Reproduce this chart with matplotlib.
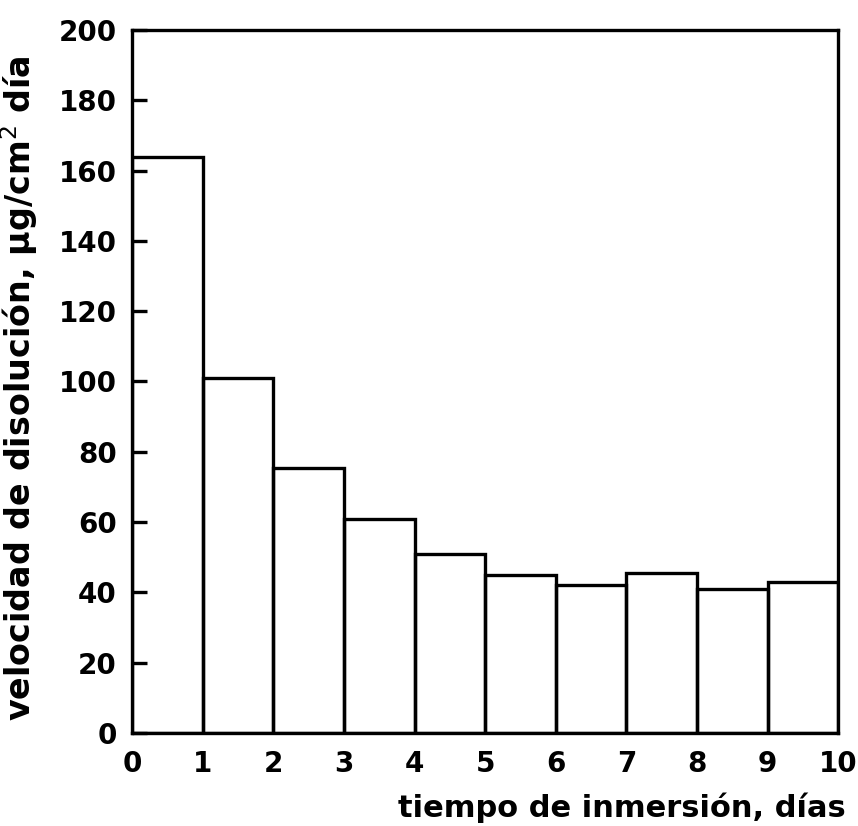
from matplotlib import pyplot as plt
import numpy as np

# dissolution rate per day of immersion
dias = np.arange(0, 10)
velocidad = [164, 101, 75.5, 61, 51, 45, 42, 45.5, 41, 43]
yticks = [0, 20, 40, 60, 80, 100, 120, 140, 160, 180, 200]
xticks = [0, 1, 2, 3, 4, 5, 6, 7, 8, 9, 10]

fig = plt.figure(figsize=(8.58, 8.26), dpi=100)
ax = fig.add_axes([0.154, 0.1126, 0.823, 0.8511])

ax.bar(dias, velocidad, width=1, align='edge', fill=False,
       edgecolor='black', linewidth=2.4)

ax.set_xlim(0, 10)
ax.set_ylim(0, 200)
ax.set_xticks(xticks)
ax.set_yticks(yticks)

for spine in ax.spines.values():
    spine.set_linewidth(2.4)

ax.tick_params(axis='y', direction='in', length=11, width=2.4, pad=11,
               labelsize=20)
ax.tick_params(axis='x', length=0, pad=12, labelsize=20)
for lab in ax.get_xticklabels() + ax.get_yticklabels():
    lab.set_fontweight('bold')

ax.set_ylabel("velocidad de disolución, μg/cm$^2$ día", fontsize=24,
              fontweight='bold', labelpad=14)
ax.yaxis.set_label_coords(-0.13, 0.49)
ax.set_xlabel("tiempo de inmersión, días", fontsize=22, fontweight='bold')
ax.xaxis.set_label_coords(1.01, -0.085)
ax.xaxis.label.set_horizontalalignment('right')

plt.savefig('out.png', dpi=100)
plt.close()
